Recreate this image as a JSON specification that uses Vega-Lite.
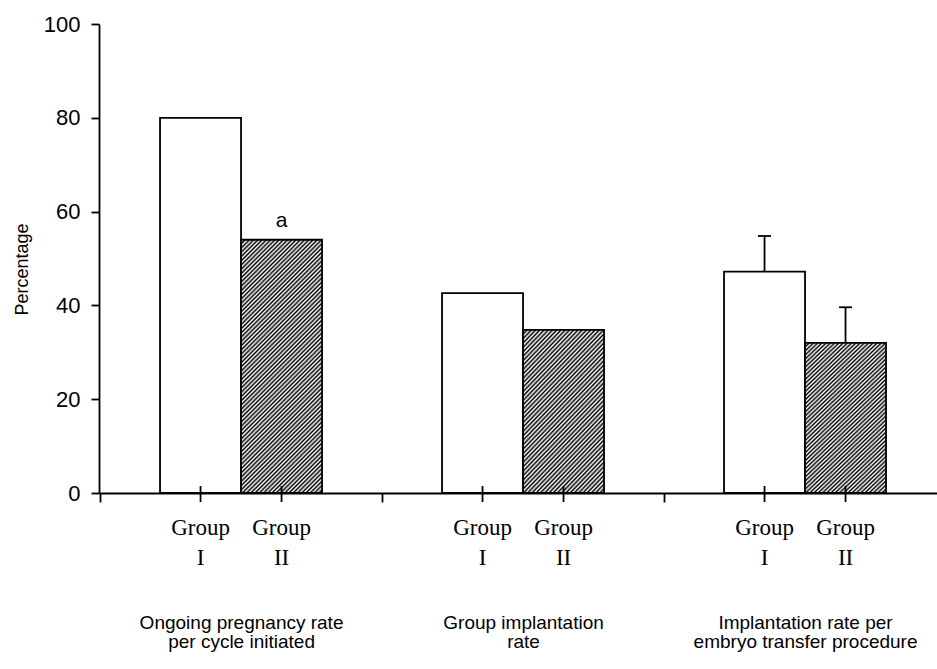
{
"$schema": "https://vega.github.io/schema/vega-lite/v6.json",
"width": 838, "height": 469,
"autosize": {"type": "none"},
"padding": {"left": 99, "top": 24, "right": 0, "bottom": 176},
"background": "white",
"config": {"view": {"stroke": null}},
"data": {"values": [
{"category": "Ongoing pregnancy rate\nper cycle initiated", "group": "I", "value": 80},
{"category": "Ongoing pregnancy rate\nper cycle initiated", "group": "II", "value": 54, "note": "a"},
{"category": "Group implantation\nrate", "group": "I", "value": 42.6},
{"category": "Group implantation\nrate", "group": "II", "value": 34.8},
{"category": "Implantation rate per\nembryo transfer procedure", "group": "I", "value": 47.2, "upper": 54.8},
{"category": "Implantation rate per\nembryo transfer procedure", "group": "II", "value": 32, "upper": 39.6}
]},
"encoding": {
"x": {"field": "category", "type": "nominal", "sort": null,
 "scale": {"paddingInner": 0.4255, "paddingOuter": 0.1986, "align": 0.545, "round": false},
 "axis": {"title": null, "domainColor": "black", "domainWidth": 1.8, "tickColor": "black", "tickWidth": 1.8, "tickSize": 9, "tickOffset": -141, "labelOffset": 141, "labelPadding": 111, "labelAngle": 0, "labelFont": "Liberation Sans", "labelFontSize": 19, "labelColor": "black", "labelLineHeight": 19, "labelLimit": 0, "labelExpr": "split(datum.label, '\\n')"}},
"xOffset": {"field": "group", "type": "nominal", "sort": ["I", "II"], "scale": {"paddingInner": 0, "paddingOuter": 0}},
"y": {"field": "value", "type": "quantitative", "title": "Percentage",
 "scale": {"domain": [0, 100], "nice": false},
 "axis": {"values": [0, 20, 40, 60, 80, 100], "grid": false, "domainColor": "black", "domainWidth": 1.8, "tickColor": "black", "tickWidth": 1.8, "tickSize": 8, "labelPadding": 11, "labelFont": "Liberation Sans", "labelFontSize": 22, "labelColor": "black", "title": "Percentage", "titleFont": "Liberation Sans", "titleFontSize": 18, "titleFontWeight": "normal", "titleColor": "black", "titleX": -77, "titleY": 245, "titleAngle": 270, "titleAlign": "center", "titleBaseline": "middle"}}
},
"layer": [
{"transform": [{"filter": "datum.group === 'I'"}],
 "mark": {"type": "bar", "fill": "white", "stroke": "black", "strokeWidth": 1.8}},
{"transform": [{"filter": "datum.group === 'II' && indexof(datum.category, 'Ongoing') >= 0"}],
 "mark": {"type": "bar", "stroke": "black", "strokeWidth": 1.8, "fill": {"gradient": "linear", "x1": 0, "y1": 0, "x2": 0.3887, "y2": 1.2157, "stops": [
{"offset":0,"color":"#000"},{"offset":0.00625,"color":"#fff"},{"offset":0.0125,"color":"#000"},{"offset":0.01875,"color":"#fff"},{"offset":0.025,"color":"#000"},{"offset":0.03125,"color":"#fff"},{"offset":0.0375,"color":"#000"},{"offset":0.04375,"color":"#fff"},{"offset":0.05,"color":"#000"},{"offset":0.05625,"color":"#fff"},{"offset":0.0625,"color":"#000"},{"offset":0.06875,"color":"#fff"},{"offset":0.075,"color":"#000"},{"offset":0.08125,"color":"#fff"},{"offset":0.0875,"color":"#000"},{"offset":0.09375,"color":"#fff"},
{"offset":0.1,"color":"#000"},{"offset":0.10625,"color":"#fff"},{"offset":0.1125,"color":"#000"},{"offset":0.11875,"color":"#fff"},{"offset":0.125,"color":"#000"},{"offset":0.13125,"color":"#fff"},{"offset":0.1375,"color":"#000"},{"offset":0.14375,"color":"#fff"},{"offset":0.15,"color":"#000"},{"offset":0.15625,"color":"#fff"},{"offset":0.1625,"color":"#000"},{"offset":0.16875,"color":"#fff"},{"offset":0.175,"color":"#000"},{"offset":0.18125,"color":"#fff"},{"offset":0.1875,"color":"#000"},{"offset":0.19375,"color":"#fff"},
{"offset":0.2,"color":"#000"},{"offset":0.20625,"color":"#fff"},{"offset":0.2125,"color":"#000"},{"offset":0.21875,"color":"#fff"},{"offset":0.225,"color":"#000"},{"offset":0.23125,"color":"#fff"},{"offset":0.2375,"color":"#000"},{"offset":0.24375,"color":"#fff"},{"offset":0.25,"color":"#000"},{"offset":0.25625,"color":"#fff"},{"offset":0.2625,"color":"#000"},{"offset":0.26875,"color":"#fff"},{"offset":0.275,"color":"#000"},{"offset":0.28125,"color":"#fff"},{"offset":0.2875,"color":"#000"},{"offset":0.29375,"color":"#fff"},
{"offset":0.3,"color":"#000"},{"offset":0.30625,"color":"#fff"},{"offset":0.3125,"color":"#000"},{"offset":0.31875,"color":"#fff"},{"offset":0.325,"color":"#000"},{"offset":0.33125,"color":"#fff"},{"offset":0.3375,"color":"#000"},{"offset":0.34375,"color":"#fff"},{"offset":0.35,"color":"#000"},{"offset":0.35625,"color":"#fff"},{"offset":0.3625,"color":"#000"},{"offset":0.36875,"color":"#fff"},{"offset":0.375,"color":"#000"},{"offset":0.38125,"color":"#fff"},{"offset":0.3875,"color":"#000"},{"offset":0.39375,"color":"#fff"},
{"offset":0.4,"color":"#000"},{"offset":0.40625,"color":"#fff"},{"offset":0.4125,"color":"#000"},{"offset":0.41875,"color":"#fff"},{"offset":0.425,"color":"#000"},{"offset":0.43125,"color":"#fff"},{"offset":0.4375,"color":"#000"},{"offset":0.44375,"color":"#fff"},{"offset":0.45,"color":"#000"},{"offset":0.45625,"color":"#fff"},{"offset":0.4625,"color":"#000"},{"offset":0.46875,"color":"#fff"},{"offset":0.475,"color":"#000"},{"offset":0.48125,"color":"#fff"},{"offset":0.4875,"color":"#000"},{"offset":0.49375,"color":"#fff"},
{"offset":0.5,"color":"#000"},{"offset":0.50625,"color":"#fff"},{"offset":0.5125,"color":"#000"},{"offset":0.51875,"color":"#fff"},{"offset":0.525,"color":"#000"},{"offset":0.53125,"color":"#fff"},{"offset":0.5375,"color":"#000"},{"offset":0.54375,"color":"#fff"},{"offset":0.55,"color":"#000"},{"offset":0.55625,"color":"#fff"},{"offset":0.5625,"color":"#000"},{"offset":0.56875,"color":"#fff"},{"offset":0.575,"color":"#000"},{"offset":0.58125,"color":"#fff"},{"offset":0.5875,"color":"#000"},{"offset":0.59375,"color":"#fff"},
{"offset":0.6,"color":"#000"},{"offset":0.60625,"color":"#fff"},{"offset":0.6125,"color":"#000"},{"offset":0.61875,"color":"#fff"},{"offset":0.625,"color":"#000"},{"offset":0.63125,"color":"#fff"},{"offset":0.6375,"color":"#000"},{"offset":0.64375,"color":"#fff"},{"offset":0.65,"color":"#000"},{"offset":0.65625,"color":"#fff"},{"offset":0.6625,"color":"#000"},{"offset":0.66875,"color":"#fff"},{"offset":0.675,"color":"#000"},{"offset":0.68125,"color":"#fff"},{"offset":0.6875,"color":"#000"},{"offset":0.69375,"color":"#fff"},
{"offset":0.7,"color":"#000"},{"offset":0.70625,"color":"#fff"},{"offset":0.7125,"color":"#000"},{"offset":0.71875,"color":"#fff"},{"offset":0.725,"color":"#000"},{"offset":0.73125,"color":"#fff"},{"offset":0.7375,"color":"#000"},{"offset":0.74375,"color":"#fff"},{"offset":0.75,"color":"#000"},{"offset":0.75625,"color":"#fff"},{"offset":0.7625,"color":"#000"},{"offset":0.76875,"color":"#fff"},{"offset":0.775,"color":"#000"},{"offset":0.78125,"color":"#fff"},{"offset":0.7875,"color":"#000"},{"offset":0.79375,"color":"#fff"},
{"offset":0.8,"color":"#000"},{"offset":0.80625,"color":"#fff"},{"offset":0.8125,"color":"#000"},{"offset":0.81875,"color":"#fff"},{"offset":0.825,"color":"#000"},{"offset":0.83125,"color":"#fff"},{"offset":0.8375,"color":"#000"},{"offset":0.84375,"color":"#fff"},{"offset":0.85,"color":"#000"},{"offset":0.85625,"color":"#fff"},{"offset":0.8625,"color":"#000"},{"offset":0.86875,"color":"#fff"},{"offset":0.875,"color":"#000"},{"offset":0.88125,"color":"#fff"},{"offset":0.8875,"color":"#000"},{"offset":0.89375,"color":"#fff"},
{"offset":0.9,"color":"#000"},{"offset":0.90625,"color":"#fff"},{"offset":0.9125,"color":"#000"},{"offset":0.91875,"color":"#fff"},{"offset":0.925,"color":"#000"},{"offset":0.93125,"color":"#fff"},{"offset":0.9375,"color":"#000"},{"offset":0.94375,"color":"#fff"},{"offset":0.95,"color":"#000"},{"offset":0.95625,"color":"#fff"},{"offset":0.9625,"color":"#000"},{"offset":0.96875,"color":"#fff"},{"offset":0.975,"color":"#000"},{"offset":0.98125,"color":"#fff"},{"offset":0.9875,"color":"#000"},{"offset":0.99375,"color":"#fff"},
{"offset":1,"color":"#000"}]}}},
{"transform": [{"filter": "datum.group === 'II' && indexof(datum.category, 'Ongoing') < 0"}],
 "mark": {"type": "bar", "stroke": "black", "strokeWidth": 1.8, "fill": {"gradient": "linear", "x1": 0, "y1": 0, "x2": 0.8844, "y2": 1.71, "stops": [
{"offset":0,"color":"#000"},{"offset":0.00625,"color":"#fff"},{"offset":0.0125,"color":"#000"},{"offset":0.01875,"color":"#fff"},{"offset":0.025,"color":"#000"},{"offset":0.03125,"color":"#fff"},{"offset":0.0375,"color":"#000"},{"offset":0.04375,"color":"#fff"},{"offset":0.05,"color":"#000"},{"offset":0.05625,"color":"#fff"},{"offset":0.0625,"color":"#000"},{"offset":0.06875,"color":"#fff"},{"offset":0.075,"color":"#000"},{"offset":0.08125,"color":"#fff"},{"offset":0.0875,"color":"#000"},{"offset":0.09375,"color":"#fff"},
{"offset":0.1,"color":"#000"},{"offset":0.10625,"color":"#fff"},{"offset":0.1125,"color":"#000"},{"offset":0.11875,"color":"#fff"},{"offset":0.125,"color":"#000"},{"offset":0.13125,"color":"#fff"},{"offset":0.1375,"color":"#000"},{"offset":0.14375,"color":"#fff"},{"offset":0.15,"color":"#000"},{"offset":0.15625,"color":"#fff"},{"offset":0.1625,"color":"#000"},{"offset":0.16875,"color":"#fff"},{"offset":0.175,"color":"#000"},{"offset":0.18125,"color":"#fff"},{"offset":0.1875,"color":"#000"},{"offset":0.19375,"color":"#fff"},
{"offset":0.2,"color":"#000"},{"offset":0.20625,"color":"#fff"},{"offset":0.2125,"color":"#000"},{"offset":0.21875,"color":"#fff"},{"offset":0.225,"color":"#000"},{"offset":0.23125,"color":"#fff"},{"offset":0.2375,"color":"#000"},{"offset":0.24375,"color":"#fff"},{"offset":0.25,"color":"#000"},{"offset":0.25625,"color":"#fff"},{"offset":0.2625,"color":"#000"},{"offset":0.26875,"color":"#fff"},{"offset":0.275,"color":"#000"},{"offset":0.28125,"color":"#fff"},{"offset":0.2875,"color":"#000"},{"offset":0.29375,"color":"#fff"},
{"offset":0.3,"color":"#000"},{"offset":0.30625,"color":"#fff"},{"offset":0.3125,"color":"#000"},{"offset":0.31875,"color":"#fff"},{"offset":0.325,"color":"#000"},{"offset":0.33125,"color":"#fff"},{"offset":0.3375,"color":"#000"},{"offset":0.34375,"color":"#fff"},{"offset":0.35,"color":"#000"},{"offset":0.35625,"color":"#fff"},{"offset":0.3625,"color":"#000"},{"offset":0.36875,"color":"#fff"},{"offset":0.375,"color":"#000"},{"offset":0.38125,"color":"#fff"},{"offset":0.3875,"color":"#000"},{"offset":0.39375,"color":"#fff"},
{"offset":0.4,"color":"#000"},{"offset":0.40625,"color":"#fff"},{"offset":0.4125,"color":"#000"},{"offset":0.41875,"color":"#fff"},{"offset":0.425,"color":"#000"},{"offset":0.43125,"color":"#fff"},{"offset":0.4375,"color":"#000"},{"offset":0.44375,"color":"#fff"},{"offset":0.45,"color":"#000"},{"offset":0.45625,"color":"#fff"},{"offset":0.4625,"color":"#000"},{"offset":0.46875,"color":"#fff"},{"offset":0.475,"color":"#000"},{"offset":0.48125,"color":"#fff"},{"offset":0.4875,"color":"#000"},{"offset":0.49375,"color":"#fff"},
{"offset":0.5,"color":"#000"},{"offset":0.50625,"color":"#fff"},{"offset":0.5125,"color":"#000"},{"offset":0.51875,"color":"#fff"},{"offset":0.525,"color":"#000"},{"offset":0.53125,"color":"#fff"},{"offset":0.5375,"color":"#000"},{"offset":0.54375,"color":"#fff"},{"offset":0.55,"color":"#000"},{"offset":0.55625,"color":"#fff"},{"offset":0.5625,"color":"#000"},{"offset":0.56875,"color":"#fff"},{"offset":0.575,"color":"#000"},{"offset":0.58125,"color":"#fff"},{"offset":0.5875,"color":"#000"},{"offset":0.59375,"color":"#fff"},
{"offset":0.6,"color":"#000"},{"offset":0.60625,"color":"#fff"},{"offset":0.6125,"color":"#000"},{"offset":0.61875,"color":"#fff"},{"offset":0.625,"color":"#000"},{"offset":0.63125,"color":"#fff"},{"offset":0.6375,"color":"#000"},{"offset":0.64375,"color":"#fff"},{"offset":0.65,"color":"#000"},{"offset":0.65625,"color":"#fff"},{"offset":0.6625,"color":"#000"},{"offset":0.66875,"color":"#fff"},{"offset":0.675,"color":"#000"},{"offset":0.68125,"color":"#fff"},{"offset":0.6875,"color":"#000"},{"offset":0.69375,"color":"#fff"},
{"offset":0.7,"color":"#000"},{"offset":0.70625,"color":"#fff"},{"offset":0.7125,"color":"#000"},{"offset":0.71875,"color":"#fff"},{"offset":0.725,"color":"#000"},{"offset":0.73125,"color":"#fff"},{"offset":0.7375,"color":"#000"},{"offset":0.74375,"color":"#fff"},{"offset":0.75,"color":"#000"},{"offset":0.75625,"color":"#fff"},{"offset":0.7625,"color":"#000"},{"offset":0.76875,"color":"#fff"},{"offset":0.775,"color":"#000"},{"offset":0.78125,"color":"#fff"},{"offset":0.7875,"color":"#000"},{"offset":0.79375,"color":"#fff"},
{"offset":0.8,"color":"#000"},{"offset":0.80625,"color":"#fff"},{"offset":0.8125,"color":"#000"},{"offset":0.81875,"color":"#fff"},{"offset":0.825,"color":"#000"},{"offset":0.83125,"color":"#fff"},{"offset":0.8375,"color":"#000"},{"offset":0.84375,"color":"#fff"},{"offset":0.85,"color":"#000"},{"offset":0.85625,"color":"#fff"},{"offset":0.8625,"color":"#000"},{"offset":0.86875,"color":"#fff"},{"offset":0.875,"color":"#000"},{"offset":0.88125,"color":"#fff"},{"offset":0.8875,"color":"#000"},{"offset":0.89375,"color":"#fff"},
{"offset":0.9,"color":"#000"},{"offset":0.90625,"color":"#fff"},{"offset":0.9125,"color":"#000"},{"offset":0.91875,"color":"#fff"},{"offset":0.925,"color":"#000"},{"offset":0.93125,"color":"#fff"},{"offset":0.9375,"color":"#000"},{"offset":0.94375,"color":"#fff"},{"offset":0.95,"color":"#000"},{"offset":0.95625,"color":"#fff"},{"offset":0.9625,"color":"#000"},{"offset":0.96875,"color":"#fff"},{"offset":0.975,"color":"#000"},{"offset":0.98125,"color":"#fff"},{"offset":0.9875,"color":"#000"},{"offset":0.99375,"color":"#fff"},
{"offset":1,"color":"#000"}]}}},
{"mark": {"type": "tick", "orient": "vertical", "size": 16, "thickness": 1.8, "color": "black", "opacity": 1, "yOffset": 1},
 "encoding": {"y": {"datum": 0}}},
{"transform": [{"filter": "isValid(datum.upper)"}],
 "mark": {"type": "rule", "color": "black", "strokeWidth": 1.8},
 "encoding": {"y2": {"field": "upper"}}},
{"transform": [{"filter": "isValid(datum.upper)"}],
 "mark": {"type": "tick", "orient": "horizontal", "size": 13, "thickness": 1.8, "color": "black", "opacity": 1},
 "encoding": {"y": {"field": "upper", "type": "quantitative", "title": "Percentage"}}},
{"transform": [{"filter": "isValid(datum.note)"}],
 "mark": {"type": "text", "font": "Liberation Sans", "fontSize": 21, "baseline": "alphabetic", "dy": -13, "color": "black"},
 "encoding": {"text": {"field": "note"}}},
{"mark": {"type": "text", "text": "Group", "font": "Liberation Serif", "fontSize": 23, "baseline": "alphabetic", "dy": 42, "color": "black"},
 "encoding": {"y": {"datum": 0}}},
{"mark": {"type": "text", "font": "Liberation Serif", "fontSize": 23, "baseline": "alphabetic", "dy": 72, "color": "black"},
 "encoding": {"y": {"datum": 0}, "text": {"field": "group"}}}
]
}
